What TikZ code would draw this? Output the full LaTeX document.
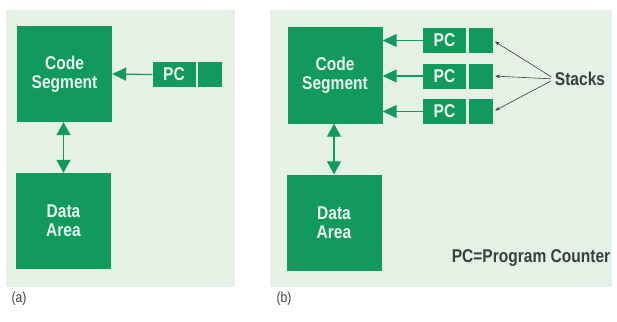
\documentclass[tikz,border=0pt]{standalone}
\usepackage{fontspec}
\setmainfont{Liberation Sans}[FakeStretch=0.84]
\usepackage{xcolor}
\usetikzlibrary{arrows.meta,positioning}
\definecolor{hpgreen}{HTML}{119A5C}
\definecolor{panelbg}{HTML}{E5F1E5}
\definecolor{boxtext}{HTML}{EAF6EE}
\definecolor{inktext}{HTML}{3A3F3C}

\tikzset{
  segbox/.style={fill=hpgreen, draw=none, minimum width=95pt, minimum height=96pt,
    text=boxtext, font=\fontsize{18.5}{19}\selectfont\bfseries, align=center, inner sep=0pt},
  pcbox/.style={fill=hpgreen, draw=none, minimum width=43pt, minimum height=25pt,
    text=boxtext, font=\fontsize{18.5}{19}\selectfont\bfseries, inner sep=0pt},
  slotbox/.style={fill=hpgreen, draw=none, minimum width=24pt, minimum height=25pt, inner sep=0pt},
  flow/.style={draw=hpgreen, line width=1.2pt, -{Triangle[length=14pt,width=13pt]}},
  both/.style={draw=hpgreen, line width=1.2pt, {Triangle[length=13pt,width=14pt]}-{Triangle[length=13pt,width=14pt]}},
  pointer/.style={draw=inktext, line width=0.6pt, -{Stealth[length=5pt,width=3.5pt]}, shorten >=2pt, shorten <=4pt},
  note/.style={text=inktext, font=\fontsize{18.5}{19}\selectfont\bfseries, inner sep=0pt},
  caption/.style={text=inktext, font=\fontsize{14.5}{15}\selectfont, inner sep=0pt}
}

\begin{document}
\begin{tikzpicture}[x=1pt, y=-1pt]
\useasboundingbox (0,0) rectangle (617,321);

% Panel backgrounds
\fill[panelbg] (6,10) rectangle (235,287);
\fill[panelbg] (270,10) rectangle (612,287);

% (a) one program counter
\node[segbox] (codeA) at (64.5,74) {Code\\Segment};
\node[segbox] (dataA) at (63.5,221) {Data\\Area};
\node[pcbox] (pcA) at (174,74.5) {PC};
\node[slotbox] (slotA) at (209.5,74.5) {};
\draw[flow] (pcA.west) -- (codeA.east);
\draw[both] (codeA.south -| dataA.north) -- (dataA.north);
\node[caption] (capA) at (19,299) {(a)};

% (b) several stacks
\node[segbox] (codeB) at (335,75.5) {Code\\Segment};
\node[segbox] (dataB) at (334,222.5) {Data\\Area};
\node[note] (stacks) at (580,79) {Stacks};
\foreach \y [count=\i] in {40.5,76,111.5} {
  \node[pcbox] (pc\i) at (444.5,\y) {PC};
  \node[slotbox] (slot\i) at (481,\y) {};
  \draw[flow] (pc\i.west) -- (codeB.east |- pc\i.west);
  \draw[pointer] (stacks.west) -- (slot\i.east);
}
\draw[both] (codeB.south -| dataB.north) -- (dataB.north);
\node[note] (legend) at (531,258) {PC=Program Counter};
\node[caption] (capB) at (284,299) {(b)};
\end{tikzpicture}
\end{document}
